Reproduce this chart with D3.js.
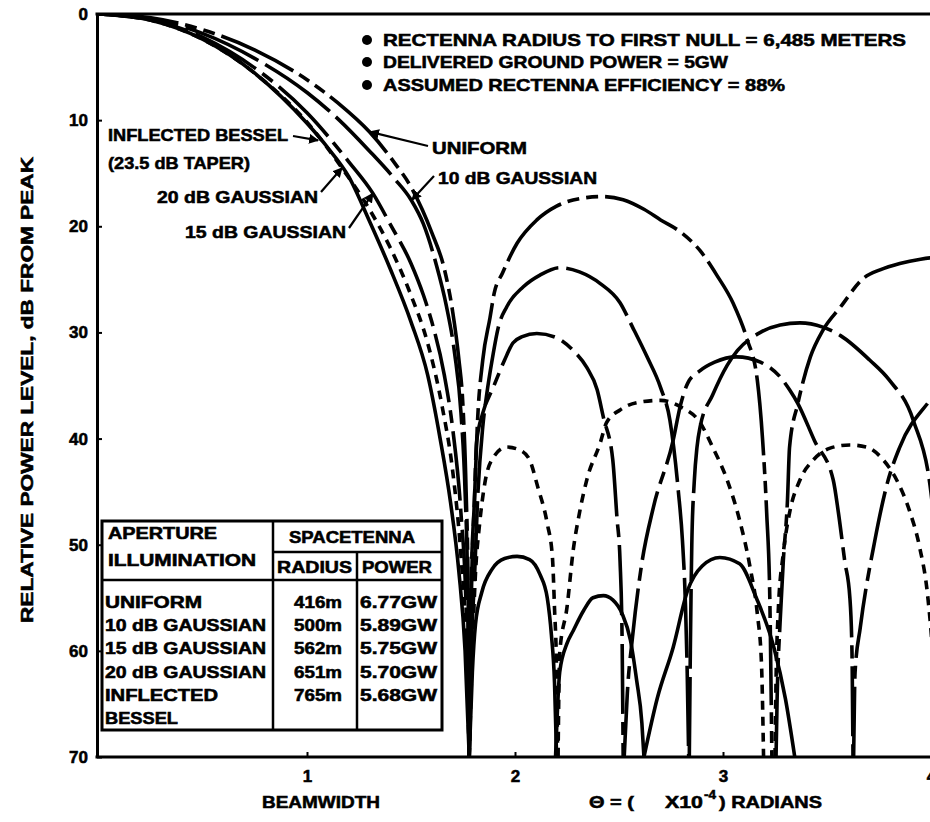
<!DOCTYPE html>
<html>
<head>
<meta charset="utf-8">
<script src="https://cdn.jsdelivr.net/npm/d3@7"></script>
<style>
  html, body { margin: 0; padding: 0; background: #fff; }
  svg { display: block; }
  text { font-family: "Liberation Sans", Arial, Helvetica, sans-serif; font-weight: 700; fill: #000; stroke: #000; stroke-width: 0.55px; }
</style>
</head>
<body>
<svg id="chart" width="930" height="822"></svg>
<script>
// ---- axis ticks ----
const yTickValues = [0, 10, 20, 30, 40, 50, 60, 70];
const xTickValues = [1, 2, 3, 4];

// ---- notes and summary table ----
const notes = [
  "RECTENNA RADIUS TO FIRST NULL = 6,485 METERS",
  "DELIVERED GROUND POWER = 5GW",
  "ASSUMED RECTENNA EFFICIENCY = 88%"
];
const tableIllumination = ["UNIFORM", "10 dB GAUSSIAN", "15 dB GAUSSIAN", "20 dB GAUSSIAN", "INFLECTED", "BESSEL"];
const tableRadius = ["416m", "500m", "562m", "651m", "765m"];
const tablePower = ["6.77GW", "5.89GW", "5.75GW", "5.70GW", "5.68GW"];

// ---- far-field patterns: each lobe is a list of [theta (x1e-4 rad), dB below peak] ----
const uniformLobes = [
  [[0,0],[0.25,0.35],[0.5,1.5],[0.75,3.4],[1.0,6.2],[1.15,8.4],[1.3,11.1],[1.42,14],[1.5,16.3],[1.6,20.6],[1.66,24],[1.7,28],[1.73,32.5],[1.75,37],[1.765,45],[1.775,55],[1.78,70]],
  [[1.78,70],[1.79,55],[1.805,45.8],[1.82,38.3],[1.845,32.6],[1.88,28.6],[1.9,26.3],[1.94,24.4],[2.01,21.6],[2.105,19.4],[2.2,18.1],[2.31,17.4],[2.42,17.2],[2.52,17.5],[2.62,18.4],[2.7,19.4],[2.8,20.6],[2.89,22.3],[2.97,24.6],[3.05,27.3],[3.115,30.6],[3.165,34.5],[3.19,40],[3.21,47],[3.225,55],[3.235,70]],
  [[3.255,70],[3.26,64.7],[3.275,57.1],[3.29,51.5],[3.31,45.8],[3.32,40.8],[3.36,36.7],[3.42,32.3],[3.48,29.8],[3.565,27.6],[3.675,24.9],[3.755,24.1],[3.85,23.5],[3.95,23.1],[4.05,22.9],[4.15,23.3]]
];
const gauss10Lobes = [
  [[0,0],[0.25,0.45],[0.5,1.85],[0.75,4.2],[1.0,7.4],[1.15,9.9],[1.3,12.9],[1.42,15.5],[1.5,17.5],[1.56,19.8],[1.62,23.5],[1.67,27.5],[1.71,32],[1.74,37.5],[1.76,45],[1.772,54],[1.78,70]],
  [[1.78,70],[1.79,60],[1.805,53.3],[1.82,45.8],[1.845,38.9],[1.865,35.7],[1.89,32.6],[1.92,29.5],[1.96,27.6],[2.04,25.7],[2.12,24.6],[2.215,23.9],[2.31,24.3],[2.41,25.4],[2.505,27.2],[2.565,29.5],[2.635,32.3],[2.7,35.2],[2.745,38.3],[2.785,44.9],[2.805,49.6],[2.82,55.9],[2.828,62.1],[2.835,70]],
  [[2.838,70],[2.843,60],[2.85,50],[2.862,44],[2.875,40.8],[2.89,38.9],[2.95,35.9],[3.02,33.1],[3.07,31.7],[3.18,30],[3.275,29.3],[3.37,29.1],[3.48,29.5],[3.565,30.3],[3.705,32.6],[3.8,34.5],[3.915,38.3],[4.0,45.1],[4.03,55],[4.045,70]]
];
const gauss15Lobes = [
  [[0,0],[0.25,0.55],[0.5,2.2],[0.75,5.1],[1.0,9.3],[1.2,13.9],[1.317,16.9],[1.4,19.8],[1.5,23.5],[1.56,26.5],[1.6,29],[1.66,34],[1.7,39],[1.74,47],[1.765,56],[1.78,70]],
  [[1.78,70],[1.79,53.3],[1.805,45.8],[1.815,40.4],[1.845,37.6],[1.895,35.2],[1.95,32.6],[1.99,31],[2.035,30.4],[2.105,30.1],[2.2,30.5],[2.28,31.7],[2.345,33.3],[2.395,35.4],[2.425,38],[2.47,42],[2.49,47.4],[2.505,51.5],[2.515,59],[2.52,70]],
  [[2.525,70],[2.54,64],[2.565,58.7],[2.61,51.7],[2.665,46.5],[2.76,40.2],[2.795,36.9],[2.83,34.8],[2.89,33.6],[2.96,32.8],[3.065,32.3],[3.18,32.8],[3.275,34.2],[3.32,35.4],[3.36,36.7],[3.44,40.2],[3.53,43.9],[3.555,47],[3.585,51.5],[3.61,55],[3.62,60],[3.625,70]],
  [[3.628,70],[3.635,62],[3.66,57.8],[3.73,49.6],[3.79,44.2],[3.85,40.8],[3.995,36.4],[4.1,34],[4.2,33.5]]
];
const gauss20Lobes = [
  [[0,0],[0.25,0.6],[0.5,2.4],[0.75,5.6],[1.0,10.2],[1.168,14.5],[1.3,18.4],[1.4,22],[1.5,26.5],[1.58,31],[1.65,37],[1.7,43],[1.74,51],[1.765,59],[1.78,70]],
  [[1.78,70],[1.795,60],[1.81,52.7],[1.83,48],[1.855,44.2],[1.895,41.8],[1.96,40.8],[2.025,41.1],[2.07,42],[2.11,44.6],[2.155,48],[2.18,51.2],[2.19,56],[2.2,62],[2.205,70]],
  [[2.207,70],[2.215,60.2],[2.25,55.9],[2.28,50.5],[2.31,47],[2.345,43.9],[2.41,40.4],[2.44,38.5],[2.505,37.3],[2.59,36.6],[2.7,36.4],[2.795,37],[2.89,38.5],[2.95,40.8],[3.02,43.9],[3.08,47.7],[3.13,52.1],[3.165,56.5],[3.185,61.2],[3.195,70]],
  [[3.25,70],[3.255,62.8],[3.265,56.5],[3.29,50.8],[3.32,47],[3.37,43.9],[3.435,42],[3.515,40.9],[3.61,40.6],[3.69,40.8],[3.77,42],[3.835,43.9],[3.9,47],[3.945,50.2],[3.985,55],[4.01,61],[4.03,70]]
];
const besselLobes = [
  [[0,0],[0.25,0.6],[0.5,2.4],[0.75,5.6],[1.0,10.3],[1.1,12.6],[1.2,15.3],[1.3,19.5],[1.4,24],[1.5,29],[1.58,34],[1.64,40],[1.69,46],[1.73,52.5],[1.76,60],[1.78,70]],
  [[1.78,70],[1.795,62],[1.81,57.5],[1.84,54.5],[1.89,52.3],[1.95,51.3],[2.01,51.1],[2.07,51.4],[2.12,52.8],[2.155,55],[2.175,58.5],[2.19,63],[2.2,70]],
  [[2.195,70],[2.215,62],[2.25,59.3],[2.28,58.1],[2.33,56.2],[2.375,55],[2.425,54.8],[2.47,55.2],[2.515,56.5],[2.555,59],[2.585,62.8],[2.61,66.8],[2.62,70]],
  [[2.62,70],[2.685,64.4],[2.76,59.7],[2.83,54.3],[2.9,52],[2.985,51.2],[3.08,51.8],[3.16,55],[3.245,59.7],[3.3,64.5],[3.345,70]]
];

// point on each pattern that its label's leader touches [theta, dB]
const curveLabelTips = {
  uniform: [1.303, 11.1],
  gauss10: [1.505, 17.5],
  gauss15: [1.317, 16.9],
  gauss20: [1.168, 14.5],
  bessel:  [1.053, 11.9]
};

// ---- drawing ----
const W = 930, H = 822;
const svg = d3.select("#chart");
const x = d3.scaleLinear().domain([0, 4]).range([99, 931]);
const y = d3.scaleLinear().domain([0, 70]).range([14, 757]);
const frameLeft = x(0) - 2;

const defs = svg.append("defs");
defs.append("clipPath").attr("id", "plotClip")
  .append("rect")
  .attr("x", frameLeft).attr("y", y(0))
  .attr("width", W - frameLeft).attr("height", y(70) - y(0));

defs.append("marker")
  .attr("id", "arrowHead").attr("viewBox", "0 0 10 10")
  .attr("refX", 9).attr("refY", 5)
  .attr("markerWidth", 4.5).attr("markerHeight", 4.5)
  .attr("markerUnits", "strokeWidth")
  .attr("orient", "auto")
  .append("path").attr("d", "M0,0 L10,5 L0,10 Z").attr("fill", "#000");

// patterns
const line = d3.line()
  .x(d => x(d[0]))
  .y(d => y(d[1]))
  .curve(d3.curveMonotoneX);

const curves = [
  { key: "uniform", lobes: uniformLobes, dash: "80,7,12,7,12,7" },
  { key: "gauss10", lobes: gauss10Lobes, dash: "80,8" },
  { key: "gauss15", lobes: gauss15Lobes, dash: "70,8,13,8" },
  { key: "gauss20", lobes: gauss20Lobes, dash: "9,7" },
  { key: "bessel",  lobes: besselLobes,  dash: null }
];

const plot = svg.append("g").attr("clip-path", "url(#plotClip)");
curves.forEach(c => {
  plot.append("g").attr("class", "pattern " + c.key)
    .selectAll("path")
    .data(c.lobes)
    .join("path")
    .attr("d", line)
    .attr("fill", "none")
    .attr("stroke", "#000")
    .attr("stroke-width", 3.6)
    .attr("stroke-dasharray", c.dash);
});

// axes
const yAxis = svg.append("g")
  .attr("transform", `translate(${frameLeft},0)`)
  .call(d3.axisLeft(y).tickValues(yTickValues).tickFormat(d3.format("d"))
    .tickSizeInner(-5).tickSizeOuter(0).tickPadding(9));
yAxis.select(".domain").attr("stroke-width", 3);
yAxis.selectAll(".tick line").attr("stroke-width", 2);
yAxis.selectAll(".tick text").style("font-size", "17px");

const xAxis = svg.append("g")
  .attr("transform", `translate(0,${y(70)})`)
  .call(d3.axisBottom(x).tickValues(xTickValues).tickFormat(d3.format("d"))
    .tickSizeInner(-5).tickSizeOuter(0).tickPadding(13));
xAxis.select(".domain").remove();
xAxis.selectAll(".tick line").attr("stroke-width", 2);
xAxis.selectAll(".tick text").style("font-size", "17px");

// frame top and bottom
[y(0), y(70)].forEach(yy => {
  svg.append("line")
    .attr("x1", frameLeft - 1.5).attr("x2", W)
    .attr("y1", yy).attr("y2", yy)
    .attr("stroke", "#000").attr("stroke-width", 3);
});

// helper for fitted text
function fitText(parent, str, xLeft, yCenter, width, size, anchor) {
  const t = parent.append("text")
    .attr("x", xLeft).attr("y", yCenter).attr("dy", "0.36em")
    .style("font-size", size + "px")
    .attr("text-anchor", anchor || "start")
    .text(str);
  if (width) t.attr("textLength", width).attr("lengthAdjust", "spacingAndGlyphs");
  return t;
}

// axis titles
svg.append("text")
  .attr("transform", "translate(27,390) rotate(-90)")
  .attr("text-anchor", "middle").attr("dy", "0.36em")
  .style("font-size", "17px")
  .attr("textLength", 466).attr("lengthAdjust", "spacingAndGlyphs")
  .text("RELATIVE POWER LEVEL, dB FROM PEAK");

fitText(svg, "BEAMWIDTH", 262, 802, 118, 17);
fitText(svg, "Θ = (", 589, 802, 45, 17);
fitText(svg, "X10", 665, 802, 38, 17);
fitText(svg, "-4", 704, 795, 12, 12);
fitText(svg, ") RADIANS", 719, 802, 103, 17);

// notes block
const noteY = [40, 62, 85];
const noteW = [523, 345, 402];
notes.forEach((n, i) => {
  svg.append("circle").attr("cx", 367).attr("cy", noteY[i]).attr("r", 5).attr("fill", "#000");
  fitText(svg, n, 383, noteY[i], noteW[i], 17);
});

// curve labels with leaders
const labels = [
  { key: "uniform", lines: [["UNIFORM", 432, 148, 95]], tail: [428, 146] },
  { key: "gauss10", lines: [["10 dB GAUSSIAN", 438, 178, 159]], tail: [434, 176] },
  { key: "bessel",  lines: [["INFLECTED BESSEL", 108, 135, 180], ["(23.5 dB TAPER)", 108, 163, 142]], tail: [293, 136] },
  { key: "gauss20", lines: [["20 dB GAUSSIAN", 157, 197, 161]], tail: [321, 192] },
  { key: "gauss15", lines: [["15 dB GAUSSIAN", 185, 232, 161]], tail: [349, 228] }
];
labels.forEach(l => {
  l.lines.forEach(s => fitText(svg, s[0], s[1], s[2], s[3], 17));
  const tip = curveLabelTips[l.key];
  svg.append("line")
    .attr("x1", l.tail[0]).attr("y1", l.tail[1])
    .attr("x2", x(tip[0])).attr("y2", y(tip[1]))
    .attr("stroke", "#000").attr("stroke-width", 2.2)
    .attr("marker-end", "url(#arrowHead)");
});

// summary table
const tb = svg.append("g");
const tL = 102, tR = 442, tT = 521, tB = 730, c1 = 273, c2 = 357, hMid = 552, hBot = 580;
tb.append("rect").attr("x", tL).attr("y", tT).attr("width", tR - tL).attr("height", tB - tT)
  .attr("fill", "#fff").attr("stroke", "#000").attr("stroke-width", 3);
[[c1, tT, c1, tB], [c2, hMid, c2, tB], [c1, hMid, tR, hMid], [tL, hBot, tR, hBot]].forEach(s => {
  tb.append("line").attr("x1", s[0]).attr("y1", s[1]).attr("x2", s[2]).attr("y2", s[3])
    .attr("stroke", "#000").attr("stroke-width", 2.5);
});
fitText(tb, "APERTURE", 108, 533, 109, 16);
fitText(tb, "ILLUMINATION", 108, 560, 148, 16);
fitText(tb, "SPACETENNA", 289, 537, 126, 16);
fitText(tb, "RADIUS", 277, 567, 75, 16);
fitText(tb, "POWER", 362, 567, 70, 16);
const rowY0 = 602, rowStep = 23.3;
const illumW = [97, 161, 161, 161, 113, 73];
tableIllumination.forEach((s, i) => fitText(tb, s, 105, rowY0 + i * rowStep, illumW[i], 16));
tableRadius.forEach((s, i) => fitText(tb, s, 318, rowY0 + i * rowStep, 48, 16, "middle"));
tablePower.forEach((s, i) => fitText(tb, s, 360, rowY0 + i * rowStep, 77, 16));
</script>
</body>
</html>
